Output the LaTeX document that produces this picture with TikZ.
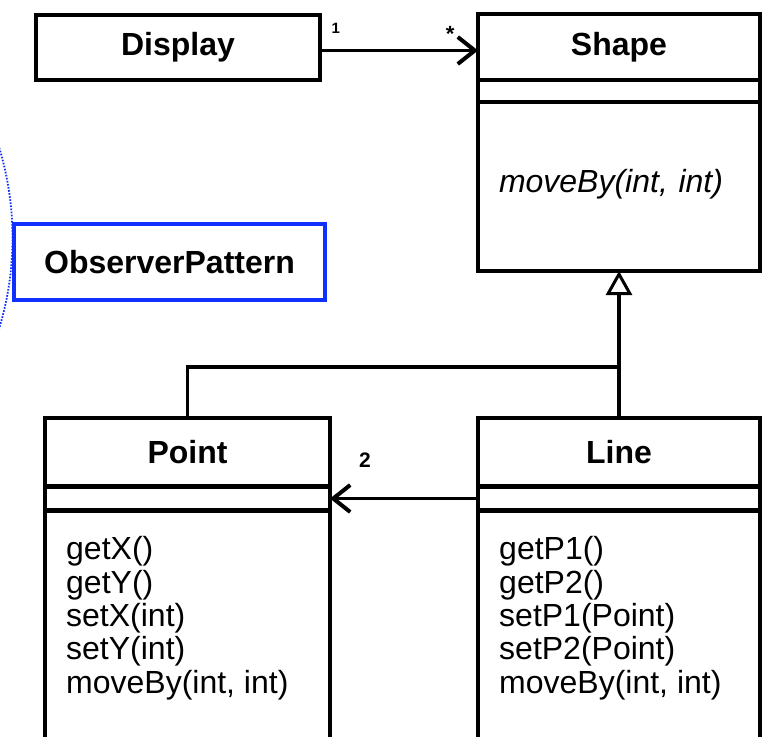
\documentclass[tikz,border=0pt]{standalone}
\usepackage{fontspec}
\setmainfont{Liberation Sans}
\usetikzlibrary{positioning, arrows.meta}

\definecolor{patternblue}{RGB}{16,48,255}

\begin{document}
\begin{tikzpicture}[
  x=1pt, y=-1pt,
  font=\fontsize{32}{34}\selectfont,
  box/.style={draw, line width=4.3pt, outer sep=0pt, inner sep=0pt},
  classname/.style={box, font=\fontsize{32}{34}\selectfont\bfseries},
  ops/.style={box, align=left, inner xsep=21pt, inner ysep=0pt},
  oplist/.style={align=left, inner sep=0pt, font=\fontsize{32}{33.3}\selectfont},
  collab/.style={draw=patternblue, line width=4.5pt, fill=white, font=\fontsize{32}{34}\selectfont\bfseries},
  tag/.style={inner sep=0pt},
  assoc/.style={line width=3.3pt, -{Straight Barb[length=17pt, width=27pt, line width=4pt]}},
  inherit/.style={line width=3.5pt, -{Triangle[fill=white, length=24pt, width=26pt, line width=3pt]}},
]
\clip (0,0) rectangle (762,736);

\draw[patternblue, line width=1.8pt, dash pattern=on 1.6pt off 1.5pt] (-275.5,238) ellipse [x radius=288pt, y radius=300pt];
\node[collab, minimum width=311pt, minimum height=76pt] (observer) at (169.5,262) {ObserverPattern};

\node[classname, minimum width=284pt, minimum height=65pt] (display) at (178,47.5) {Display};

\node[classname, minimum width=282pt, minimum height=66pt] (shapehead) at (619,47) {Shape};
\node[box, minimum width=282pt, minimum height=22pt, below=0pt of shapehead] (shapeattr) {};
\node[ops, text width=240pt, minimum height=169pt, text depth=12pt, below=0pt of shapeattr, font=\fontsize{32}{34}\selectfont\itshape] (shapeops) {moveBy(int, int)};

\node[classname, minimum width=285pt, minimum height=68.5pt] (pointhead) at (187.5,452.25) {Point};
\node[box, minimum width=285pt, minimum height=24pt, below=0pt of pointhead] (pointattr) {};
\node[box, minimum width=285pt, minimum height=240pt, below=0pt of pointattr] (pointops) {};
\node[oplist, below right=26pt and 21pt of pointops.north west] (pointoplist) {getX()\\getY()\\setX(int)\\setY(int)\\moveBy(int, int)};

\node[classname, minimum width=282pt, minimum height=68.5pt] (linehead) at (619,452.25) {Line};
\node[box, minimum width=282pt, minimum height=24pt, below=0pt of linehead] (lineattr) {};
\node[box, minimum width=282pt, minimum height=240pt, below=0pt of lineattr] (lineops) {};
\node[oplist, below right=26pt and 21pt of lineops.north west] (lineoplist) {getP1()\\getP2()\\setP1(Point)\\setP2(Point)\\moveBy(int, int)};

\draw[assoc] ([yshift=-3pt]display.east) -- ([yshift=-3pt]display.east -| shapehead.west)
  node[tag, at start, anchor=south west, xshift=10pt, yshift=15pt, font=\fontsize{15}{18}\selectfont\bfseries] (one) {1}
  node[tag, at end, anchor=south east, xshift=-22pt, yshift=7pt, font=\fontsize{22}{26}\selectfont\bfseries] (many) {*};

\coordinate[above=51pt of linehead.north] (join);
\draw[line width=3.3pt] (pointhead.north) |- (join);
\draw[inherit] (linehead.north) -- (shapeops.south);

\draw[assoc] (lineattr.west) -- (pointattr.east)
  node[tag, at end, anchor=south west, xshift=27.5pt, yshift=29pt, font=\fontsize{21}{25}\selectfont\bfseries] (two) {2};
\end{tikzpicture}
\end{document}
